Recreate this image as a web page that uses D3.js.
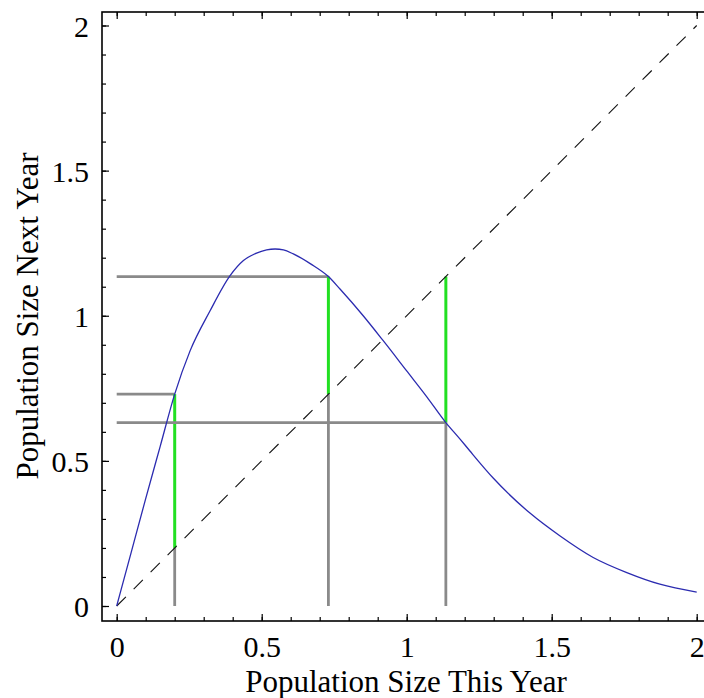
<!DOCTYPE html>
<html><head><meta charset="utf-8">
<script src="https://cdn.jsdelivr.net/npm/d3@7"></script>
<style>body{margin:0;background:#fff}</style>
</head><body>
<svg id="c" width="704" height="698"></svg>
<script>
// ---- data ----
const curveX = [0, 0.05, 0.1, 0.15, 0.2, 0.253, 0.322, 0.391, 0.437, 0.48, 0.517, 0.546, 0.575, 0.609, 0.67, 0.73, 0.77, 0.85, 0.919, 1.0, 1.07, 1.135, 1.184, 1.218, 1.299, 1.425, 1.529, 1.643, 1.759, 1.873, 2.0];
const curveY = [0, 0.185, 0.37, 0.55, 0.73, 0.879, 1.017, 1.138, 1.19, 1.215, 1.227, 1.23, 1.227, 1.213, 1.178, 1.135, 1.092, 1.0, 0.914, 0.81, 0.72, 0.632, 0.575, 0.534, 0.44, 0.32, 0.241, 0.167, 0.115, 0.075, 0.048];
const cobwebX = [0.2, 0.73, 1.135];
const cobwebNext = [0.73, 1.135, 0.632];
const diagonal = [0, 2];
const majorTicks = [0, 0.5, 1, 1.5, 2];
const minorTicks = [0,0.1,0.2,0.3,0.4,0.5,0.6,0.7,0.8,0.9,1,1.1,1.2,1.3,1.4,1.5,1.6,1.7,1.8,1.9,2];
const tickLabels = ["0", "0.5", "1", "1.5", "2"];
const xTitle = "Population Size This Year";
const yTitle = "Population Size Next Year";

const FONT = "'Liberation Serif','Times New Roman',serif";
const svg = d3.select("#c");
const x = d3.scaleLinear([0, 2], [116.7, 696.7]);
const y = d3.scaleLinear([0, 2], [606, 25.5]);
const frame = {l: 102, t: 12, r: 711, b: 621};

// cobweb lines
const g = svg.append("g");
cobwebX.forEach((cx, i) => {
  const nx = cobwebNext[i];
  g.append("line").attr("x1", x(cx)).attr("x2", x(cx)).attr("y1", y(0)).attr("y2", y(Math.min(cx, nx)))
    .attr("stroke", "#8a8a8a").attr("stroke-width", 2.8);
  g.append("line").attr("x1", x(0)).attr("x2", x(cx)).attr("y1", y(nx)).attr("y2", y(nx))
    .attr("stroke", "#8a8a8a").attr("stroke-width", 2.8);
  g.append("line").attr("x1", x(cx)).attr("x2", x(cx)).attr("y1", y(cx)).attr("y2", y(nx))
    .attr("stroke", "#22e022").attr("stroke-width", 3);
});

// diagonal
svg.append("line").attr("x1", x(diagonal[0])).attr("y1", y(diagonal[0]))
  .attr("x2", x(diagonal[1])).attr("y2", y(diagonal[1]))
  .attr("stroke", "#111").attr("stroke-width", 1.1).attr("stroke-dasharray", "13,11");

// curve
const pts = curveX.map((v, i) => [v, curveY[i]]);
svg.append("path").datum(pts)
  .attr("d", d3.line().x(d => x(d[0])).y(d => y(d[1])).curve(d3.curveMonotoneX))
  .attr("fill", "none").attr("stroke", "#2b2bb0").attr("stroke-width", 1.3);

// frame
svg.append("rect").attr("x", frame.l).attr("y", frame.t)
  .attr("width", frame.r - frame.l).attr("height", frame.b - frame.t)
  .attr("fill", "none").attr("stroke", "#000").attr("stroke-width", 1.6);

function addAxis(axisFn, scale, tr, values, size, labels) {
  const a = axisFn(scale).tickValues(values).tickSize(size).tickSizeOuter(0)
    .tickFormat(labels ? (d => tickLabels[majorTicks.indexOf(d)]) : "");
  const ag = svg.append("g").attr("transform", tr).call(a);
  ag.select(".domain").remove();
  ag.selectAll(".tick line").attr("stroke", "#000").attr("stroke-width", 1.2);
  ag.selectAll("text").attr("font-family", FONT).attr("font-size", 30).attr("fill", "#000");
  return ag;
}
// minor ticks
addAxis(d3.axisBottom, x, `translate(0,${frame.b})`, minorTicks, -4, false);
addAxis(d3.axisTop, x, `translate(0,${frame.t})`, minorTicks, -4, false);
addAxis(d3.axisLeft, y, `translate(${frame.l},0)`, minorTicks, -4, false);
addAxis(d3.axisRight, y, `translate(${frame.r},0)`, minorTicks, -4, false);
// major ticks
const bx = addAxis(d3.axisBottom, x, `translate(0,${frame.b})`, majorTicks, -7, true);
bx.selectAll("text").attr("y", 36).attr("dy", 0);
addAxis(d3.axisTop, x, `translate(0,${frame.t})`, majorTicks, -7, false);
const ly = addAxis(d3.axisLeft, y, `translate(${frame.l},0)`, majorTicks, -7, true);
ly.selectAll("text").attr("x", -13).attr("dy", "0.35em");
addAxis(d3.axisRight, y, `translate(${frame.r},0)`, majorTicks, -7, false);

// titles
svg.append("text").attr("x", 406).attr("y", 692).attr("text-anchor", "middle")
  .attr("font-family", FONT).attr("font-size", 31).text(xTitle);
svg.append("text").attr("transform", "translate(38,316) rotate(-90)").attr("text-anchor", "middle")
  .attr("font-family", FONT).attr("font-size", 31).text(yTitle);
</script>
</body></html>
